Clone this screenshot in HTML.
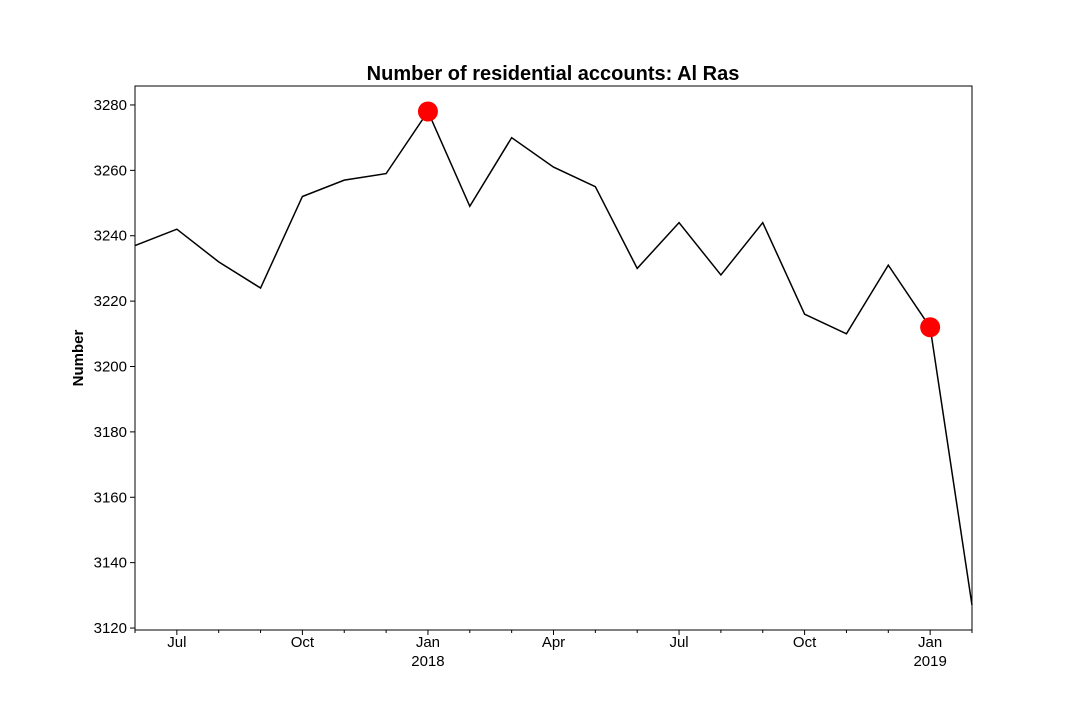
<!DOCTYPE html>
<html><head><meta charset="utf-8"><style>
body{margin:0;background:#fff;}
svg text{font-family:"Liberation Sans","DejaVu Sans",sans-serif;}
</style></head><body>
<svg id="chart" width="1080" height="720" xmlns="http://www.w3.org/2000/svg">
<rect width="1080" height="720" fill="#fff"/>
<text x="553" y="80" text-anchor="middle" font-size="20" font-weight="bold">Number of residential accounts: Al Ras</text>
<text transform="translate(83,358) rotate(-90)" text-anchor="middle" font-size="15" font-weight="bold">Number</text>
<g id="plot"></g>
<rect x="135" y="86" width="837" height="544" fill="none" stroke="#000" stroke-width="1"/>
</svg>
<script>
const months = ["2017-06","2017-07","2017-08","2017-09","2017-10","2017-11","2017-12","2018-01","2018-02","2018-03","2018-04","2018-05","2018-06","2018-07","2018-08","2018-09","2018-10","2018-11","2018-12","2019-01","2019-02"];
const values = [3237,3242,3232,3224,3252,3257,3259,3278,3249,3270,3261,3255,3230,3244,3228,3244,3216,3210,3231,3212,3127];
const highlights = ["2018-01","2019-01"];
const yTicks = [3120,3140,3160,3180,3200,3220,3240,3260,3280];
const xTickLabels = [["2017-07","Jul",""],["2017-10","Oct",""],["2018-01","Jan","2018"],["2018-04","Apr",""],["2018-07","Jul",""],["2018-10","Oct",""],["2019-01","Jan","2019"]];

const X0=135,X1=972,Y0=630,Y1=86, yMin=3119.4, yMax=3285.8;
const xs = i => X0 + i*(X1-X0)/(months.length-1);
const ys = v => Y0 - (v-yMin)/(yMax-yMin)*(Y0-Y1);
const NS="http://www.w3.org/2000/svg";
const g=document.getElementById('plot');
function mk(t,a){const e=document.createElementNS(NS,t);for(const k in a)e.setAttribute(k,a[k]);g.appendChild(e);return e;}

yTicks.forEach(v=>{
  const y=ys(v);
  const t=mk('line',{x1:X0-5,x2:X0,y1:y,y2:y,stroke:'#000'});
  
  
  const l=mk('text',{x:X0-8,y:y+5,'text-anchor':'end','font-size':15});
  l.textContent=v;
  
  
});
months.forEach((m,i)=>{
  const x=xs(i);
  const major=xTickLabels.some(t=>t[0]===m);
  const t=mk('line',{x1:x,x2:x,y1:Y0,y2:Y0+(major?5:3),stroke:'#000'});
  
  
});
xTickLabels.forEach(t=>{
  const x=xs(months.indexOf(t[0]));
  const l=mk('text',{x:x,y:Y0+17,'text-anchor':'middle','font-size':15});
  l.textContent=t[1];
  
  
  if(t[2]){
    const l2=mk('text',{x:x,y:Y0+36,'text-anchor':'middle','font-size':15});
    l2.textContent=t[2];
    
    
  }
});
const line=mk('polyline',{points:values.map((v,i)=>xs(i)+','+ys(v)).join(' '),fill:'none',stroke:'#000','stroke-width':1.5});


highlights.forEach(m=>{
  const i=months.indexOf(m);
  const c=mk('circle',{cx:xs(i),cy:ys(values[i]),r:10,fill:'#ff0000'});
  
  
});
</script>
</body></html>
